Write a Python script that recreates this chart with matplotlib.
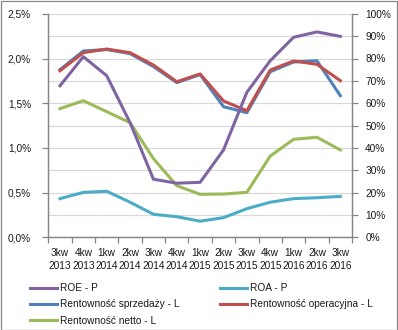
import matplotlib
matplotlib.use("Agg")
import matplotlib.pyplot as plt
import numpy as np
from matplotlib.patches import Rectangle
from matplotlib.ticker import FixedLocator, FuncFormatter

plt.rcParams['font.family'] = ['Liberation Sans Narrow', 'Liberation Sans', 'DejaVu Sans']

quarters = ["3kw\n2013", "4kw\n2013", "1kw\n2014", "2kw\n2014", "3kw\n2014", "4kw\n2014",
            "1kw\n2015", "2kw\n2015", "3kw\n2015", "4kw\n2015", "1kw\n2016", "2kw\n2016", "3kw\n2016"]

# right axis (P) series, in %
roe = [67.8, 80.8, 72.3, 51.3, 26.0, 24.2, 24.6, 39.1, 64.9, 79.0, 89.5, 91.9, 89.9]
roa = [17.3, 20.1, 20.6, 15.7, 10.3, 9.2, 7.2, 8.8, 12.8, 15.7, 17.3, 17.7, 18.3]
# left axis (L) series, in %
sprzedazy = [1.875, 2.084, 2.100, 2.055, 1.910, 1.730, 1.820, 1.461, 1.394, 1.852, 1.961, 1.975, 1.584]
operacyjna = [1.863, 2.065, 2.106, 2.065, 1.927, 1.740, 1.827, 1.525, 1.416, 1.871, 1.972, 1.935, 1.752]
netto = [1.439, 1.528, 1.405, 1.282, 0.880, 0.577, 0.481, 0.484, 0.503, 0.909, 1.096, 1.119, 0.977]

C_ROE = '#8064A2'
C_ROA = '#4BACC6'
C_SPR = '#4F81BD'
C_OPE = '#C0504D'
C_NET = '#9BBB59'
GRID = '#D9D9D9'
SPINE = '#868686'
TXT = '#1a1a1a'
FS = 7.3
LW = 2.2

W, H = 398, 330
fig = plt.figure(figsize=(W / 100, H / 100), dpi=100)
fig.add_artist(Rectangle((0.5 / W, 0.5 / H), 1 - 1.5 / W, 1 - 1.5 / H, transform=fig.transFigure,
                         fill=False, edgecolor=SPINE, linewidth=0.9))

left, right, top, bottom = 48.3, 352.0, 13.8, 237.3
ax = fig.add_axes([left / W, 1 - bottom / H, (right - left) / W, (bottom - top) / H])
ax2 = ax.twinx()

x = np.arange(len(quarters))
ax.plot(x, sprzedazy, color=C_SPR, lw=LW, label='Rentowność sprzedaży - L')
ax.plot(x, operacyjna, color=C_OPE, lw=LW, label='Rentowność operacyjna - L')
ax.plot(x, netto, color=C_NET, lw=LW, label='Rentowność netto - L')
ax2.plot(x, roe, color=C_ROE, lw=LW, label='ROE - P')
ax2.plot(x, roa, color=C_ROA, lw=LW, label='ROA - P')

ax.set_xlim(-0.5, len(quarters) - 0.5)
ax.set_ylim(0, 2.5)
ax2.set_ylim(0, 100)

# gridlines
for g in np.arange(0.25, 2.51, 0.25):
    ax.axhline(g, color=GRID, lw=0.9, zorder=0)

ax.set_yticks(np.arange(0, 2.51, 0.5))
ax.yaxis.set_major_formatter(FuncFormatter(lambda v, p: f"{v:.1f}%".replace('.', ',')))
ax2.set_yticks(np.arange(0, 101, 10))
ax2.yaxis.set_major_formatter(FuncFormatter(lambda v, p: f"{int(round(v))}%"))

ax.xaxis.set_major_locator(FixedLocator(np.arange(-0.5, len(quarters), 1.0)))
ax.xaxis.set_major_formatter(FuncFormatter(lambda v, p: ''))
ax.xaxis.set_minor_locator(FixedLocator(x))
ax.set_xticklabels(quarters, minor=True)

ax.tick_params(axis='x', which='major', length=4, width=0.9, color=SPINE, direction='out')
ax.tick_params(axis='x', which='minor', length=0, pad=8, labelsize=FS, labelcolor=TXT)
ax.tick_params(axis='y', length=4.5, width=0.9, color=SPINE, labelsize=FS, labelcolor=TXT, pad=8)
ax2.tick_params(axis='y', length=4.5, width=0.9, color=SPINE, labelsize=FS, labelcolor=TXT, pad=5)
for lab in ax.get_xticklabels(minor=True):
    lab.set_linespacing(1.3)

for a in (ax, ax2):
    a.spines['top'].set_visible(False)
    for s in ('left', 'right', 'bottom'):
        a.spines[s].set_color(SPINE)
        a.spines[s].set_linewidth(0.9)
ax.set_zorder(1)
ax2.set_zorder(2)
ax.patch.set_visible(False)
ax2.patch.set_visible(False)

h1, l1 = ax.get_legend_handles_labels()
h2, l2 = ax2.get_legend_handles_labels()
handles = [h2[0], h1[0], h1[2], h2[1], h1[1]]
labels = [l2[0], l1[0], l1[2], l2[1], l1[1]]
fig.legend(handles, labels, ncol=2, loc='upper left', bbox_to_anchor=(25 / W, 1 - 278 / H),
           frameon=False, fontsize=FS, handlelength=2.7, handletextpad=0.3,
           columnspacing=3.9, labelspacing=0.62, borderpad=0, labelcolor=TXT)

fig.savefig('out.png', dpi=100)
